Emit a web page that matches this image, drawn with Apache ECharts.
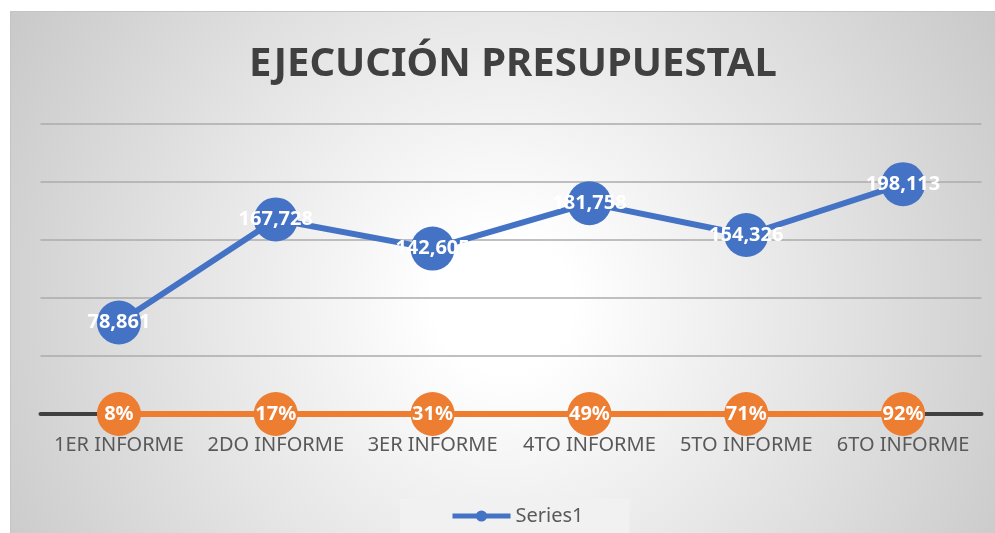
<!DOCTYPE html>
<html>
<head>
<meta charset="utf-8">
<script src="https://cdn.jsdelivr.net/npm/echarts@6/dist/echarts.min.js"></script>
<style>
  html, body { margin: 0; padding: 0; background: #ffffff; }
  #frame {
    position: absolute;
    left: 10px;
    top: 11px;
    width: 985px;
    height: 522px;
    border-top: 1px solid #c4c4c4;
    border-left: 1px solid #c4c4c4;
    box-sizing: border-box;
    background: radial-gradient(circle farthest-corner at 50% 56%, #ffffff 0%, #ffffff 12%, #c9c9c9 100%);
  }
  #chart { width: 100%; height: 100%; }
</style>
</head>
<body>
<div id="frame"><div id="chart"></div></div>
<script>
// categorias del eje x
const categories = ['1ER INFORME', '2DO INFORME', '3ER INFORME', '4TO INFORME', '5TO INFORME', '6TO INFORME'];
// monto ejecutado
const series1 = [78861, 167728, 142605, 181758, 154326, 198113];
// porcentaje de avance
const avance = [8, 17, 31, 49, 71, 92];

const myChart = echarts.init(document.getElementById('chart'));
myChart.setOption({
  backgroundColor: 'transparent',
  textStyle: { fontFamily: 'Noto Sans' },
  title: {
    text: 'EJECUCIÓN PRESUPUESTAL',
    left: 233,
    top: 28,
    textStyle: {
      fontFamily: 'Noto Sans',
      fontSize: 40,
      fontWeight: 'bold',
      color: '#404040'
    }
  },
  legend: {
    bottom: 0,
    left: 389,
    data: ['Series1'],
    backgroundColor: '#f1f1f1',
    padding: [7, 46, 7, 50],
    itemWidth: 58,
    itemHeight: 14,
    lineStyle: { width: 5 },
    textStyle: { fontSize: 20, color: '#595959', fontFamily: 'Noto Sans' }
  },
  grid: {
    left: 29.5,
    right: 13.5,
    top: 112,
    bottom: 119
  },
  xAxis: {
    type: 'category',
    data: categories,
    boundaryGap: true,
    axisLine: { lineStyle: { color: '#404040', width: 4 } },
    axisTick: { show: false },
    axisLabel: { interval: 0, color: '#595959', fontSize: 20, margin: 21, fontFamily: 'Noto Sans' }
  },
  yAxis: {
    type: 'value',
    min: 0,
    max: 250000,
    interval: 50000,
    axisLabel: { show: false },
    axisLine: { show: false },
    axisTick: { show: false },
    splitLine: { lineStyle: { color: '#ababab', width: 1.5 } }
  },
  series: [
    {
      name: 'Series1',
      type: 'line',
      data: series1,
      symbol: 'circle',
      symbolSize: 44,
      itemStyle: { color: '#4472c4' },
      lineStyle: { color: '#4472c4', width: 6 },
      label: {
        show: true,
        position: 'inside',
        color: '#ffffff',
        fontSize: 20,
        fontWeight: 'bold',
        formatter: function (p) {
          return p.value.toLocaleString('en-US');
        }
      },
      z: 3
    },
    {
      name: 'Avance',
      type: 'line',
      data: avance.map(v => v / 100),
      symbol: 'circle',
      symbolSize: 44,
      itemStyle: { color: '#ed7d31' },
      lineStyle: { color: '#ed7d31', width: 6 },
      label: {
        show: true,
        position: 'inside',
        color: '#ffffff',
        fontSize: 20,
        fontWeight: 'bold',
        formatter: function (p) {
          return avance[p.dataIndex] + '%';
        }
      },
      z: 4
    }
  ]
});
</script>
</body>
</html>
